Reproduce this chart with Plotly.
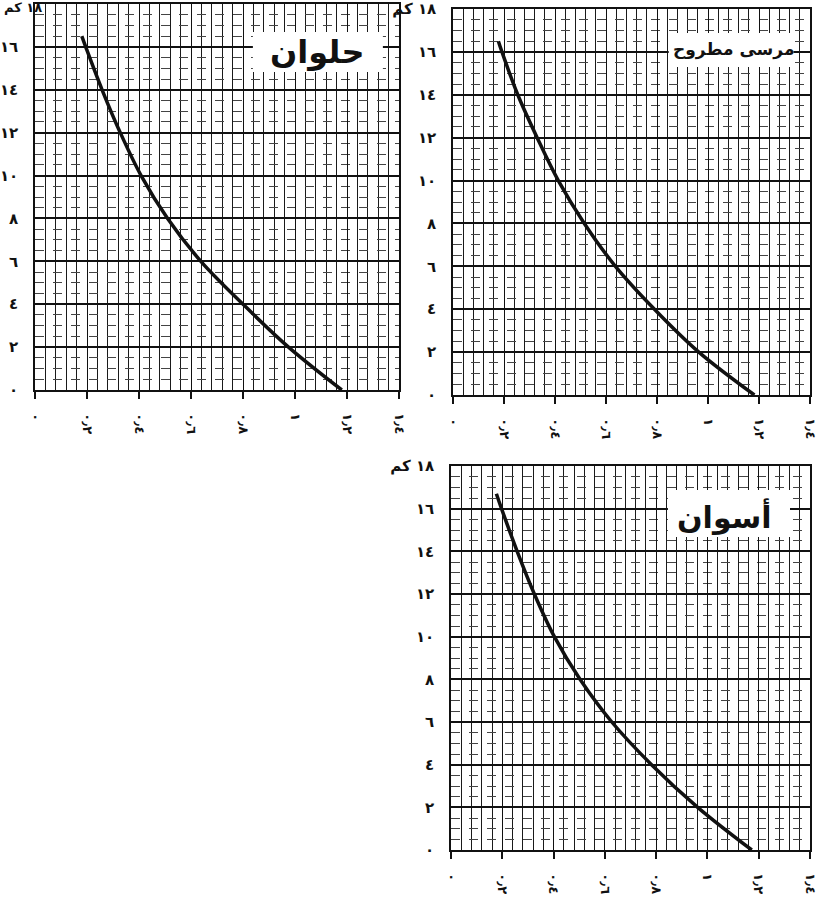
import plotly.graph_objects as go

# Height (km) versus value for each station
helwan_heights = [0, 2, 4, 6, 8, 10, 12, 14, 16, 16.5]
helwan = [1.18, 0.975, 0.80, 0.638, 0.51, 0.408, 0.328, 0.258, 0.195, 0.18]
matrouh_heights = [0, 2, 4, 6, 8, 10, 12, 14, 16, 16.5]
matrouh = [1.182, 0.964, 0.79, 0.637, 0.515, 0.413, 0.33, 0.254, 0.192, 0.178]
aswan_heights = [0, 2, 4, 6, 8, 10, 12, 14, 16, 16.7]
aswan = [1.173, 0.962, 0.782, 0.627, 0.503, 0.403, 0.325, 0.258, 0.197, 0.177]

stations = ["حلوان", "مرسى مطروح", "أسوان"]

x_tickvals = [0, 0.2, 0.4, 0.6, 0.8, 1.0, 1.2, 1.4]
x_ticktext = ["٠", "٠٫٢", "٠٫٤", "٠٫٦", "٠٫٨", "١", "١٫٢", "١٫٤"]
y_tickvals = [0, 2, 4, 6, 8, 10, 12, 14, 16, 18]
y_ticktext = ["٠", "٢", "٤", "٦", "٨", "١٠", "١٢", "١٤", "١٦", "١٨ كم"]

W, H = 818, 899


def px_dom(a, b):
    return [a / W, b / W]


def py_dom(top, bottom):
    return [1 - bottom / H, 1 - top / H]


panels = [
    dict(x=px_dom(35, 399), y=py_dom(4, 390), xs=helwan, ys=helwan_heights,
         box=(0.838, 1.338, 14.83, 16.7), label=(1.085, 15.75), size=32,
         top_as_note=True),
    dict(x=px_dom(453, 810), y=py_dom(9, 395), xs=matrouh, ys=matrouh_heights,
         box=(0.846, 1.335, 15.3, 16.88), label=(1.1, 16.1), size=17,
         top_as_note=False),
    dict(x=px_dom(451, 810), y=py_dom(466, 850), xs=aswan, ys=aswan_heights,
         box=(0.846, 1.322, 14.67, 16.88), label=(1.065, 15.65), size=30,
         top_as_note=False),
]

fig = go.Figure()
font_family = "DejaVu Sans"
shapes = []
annotations = []

for i, (p, name) in enumerate(zip(panels, stations), start=1):
    sfx = "" if i == 1 else str(i)
    fig.add_trace(go.Scatter(
        x=p["xs"], y=p["ys"], mode="lines",
        line=dict(color="#111111", width=3.5, shape="spline", smoothing=1.0),
        xaxis="x" + sfx, yaxis="y" + sfx, showlegend=False,
        hoverinfo="skip",
    ))
    y_text = ["<b>" + t + "</b>" for t in y_ticktext]
    if p["top_as_note"]:
        # top label sits in the page corner, written as a separate note
        y_text[-1] = ""
        annotations.append(dict(
            x=2 / W, y=1 - 8 / H, xref="paper", yref="paper",
            xanchor="left", yanchor="middle", showarrow=False,
            text="<b>" + y_ticktext[-1] + "</b>",
            font=dict(family=font_family, size=13, color="#111")))
    fig.layout["xaxis" + sfx] = dict(
        domain=p["x"], anchor="y" + sfx, range=[0, 1.4], automargin=False,
        tickmode="array", tickvals=x_tickvals,
        ticktext=["<b>" + t + "</b>" for t in x_ticktext],
        tickangle=90, ticks="outside", ticklen=7, tickwidth=1.5,
        tickcolor="#111", ticklabelstandoff=12, ticklabeloverflow="allow",
        tickfont=dict(family=font_family, size=13, color="#111"),
        showline=True, linecolor="#111", linewidth=1.5, mirror=True,
        showgrid=True, gridcolor="#111", gridwidth=1.3,
        minor=dict(tickmode="linear", tick0=0, dtick=0.04, showgrid=True,
                   gridcolor="#1a1a1a", gridwidth=1.1, ticks=""),
        zeroline=False, fixedrange=True,
    )
    fig.layout["yaxis" + sfx] = dict(
        domain=p["y"], anchor="x" + sfx, range=[0, 18], automargin=False,
        tickmode="array", tickvals=y_tickvals, ticktext=y_text,
        ticks="", ticklabelstandoff=12, ticklabeloverflow="allow",
        tickfont=dict(family=font_family, size=15, color="#111"),
        showline=True, linecolor="#111", linewidth=1.5, mirror=True,
        showgrid=True, gridcolor="#111", gridwidth=1.5,
        minor=dict(tickmode="linear", tick0=0, dtick=0.5, showgrid=True,
                   gridcolor="#444", gridwidth=1, griddash="dash", ticks=""),
        zeroline=False, fixedrange=True,
    )
    bx0, bx1, by0, by1 = p["box"]
    shapes.append(dict(type="rect", xref="x" + sfx, yref="y" + sfx,
                       x0=bx0, x1=bx1, y0=by0, y1=by1, layer="above",
                       fillcolor="white", line=dict(width=0)))
    lx, ly = p["label"]
    annotations.append(dict(x=lx, y=ly, xref="x" + sfx, yref="y" + sfx,
                            text="<b>" + name + "</b>", showarrow=False,
                            font=dict(family=font_family, size=p["size"],
                                      color="#111")))

fig.update_layout(
    width=W, height=H, margin=dict(l=0, r=0, t=0, b=0),
    paper_bgcolor="white", plot_bgcolor="white",
    shapes=shapes, annotations=annotations,
)

fig.write_html("out.html")
